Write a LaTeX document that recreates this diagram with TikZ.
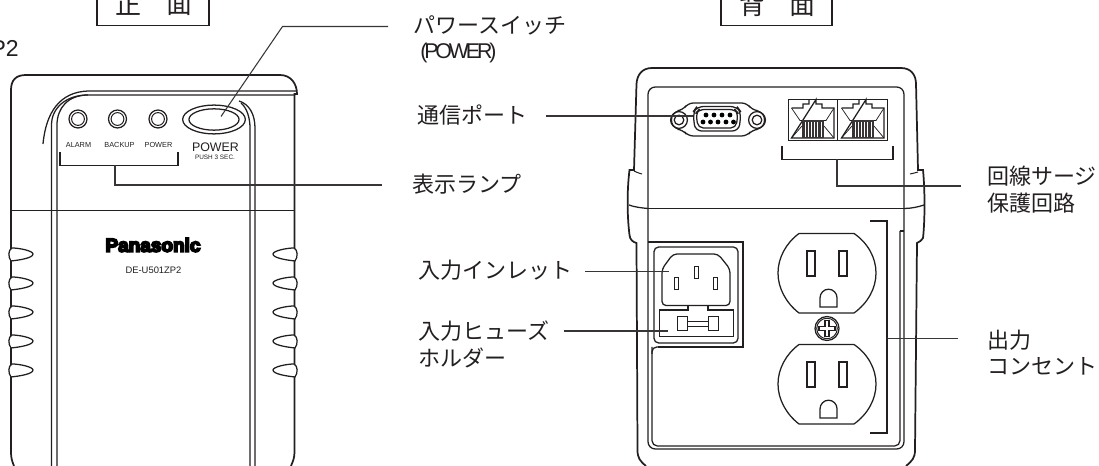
\documentclass[tikz,border=0pt]{standalone}
\usepackage{fontspec}
\setmainfont{Liberation Sans}
\newfontfamily\jp{Noto Sans CJK JP}
\newfontfamily\condfont[LetterSpace=-14.5]{Liberation Sans}
\newfontfamily\heavy[FakeBold=9]{Liberation Sans Bold}
\definecolor{ink}{HTML}{231F20}
\tikzset{
  line/.style={draw=ink,line width=.95pt},
  thin line/.style={draw=ink,line width=.75pt},
  thick line/.style={draw=ink,line width=1.3pt},
  leader/.style={draw=ink!90,line width=.8pt},
  lab/.style={inner sep=0pt,anchor=west,text=ink,font=\jp\fontsize{16.5pt}{18pt}\selectfont},
  ttl/.style={inner sep=0pt,text=ink,font=\jp\fontsize{19.5pt}{20pt}\selectfont},
  small/.style={inner sep=0pt,text=ink,font=\fontsize{5.5pt}{6pt}\selectfont},
}
\begin{document}
\begin{tikzpicture}[x=.75pt,y=-.75pt]
\clip (0,0) rectangle (1099,466);

% ---------- titles
\draw[thick line] (97,-5) -- (97,25.5) -- (209,25.5) -- (209,-5);
\node[ttl] (tf1) at (128.5,4.5) {正};
\node[ttl] (tf2) at (179,4.5) {面};
\draw[thick line] (721,-5) -- (721,25.5) -- (832,25.5) -- (832,-5);
\node[ttl] (tb1) at (752,5) {背};
\node[ttl] (tb2) at (802,5) {面};
\node[inner sep=0pt,anchor=base east,text=ink,font=\fontsize{17.25pt}{18pt}\selectfont] (model) at (19,57) {P2};

% ---------- front view
\draw[thick line] (14,466) .. controls (12,461) and (11,458) .. (11,452) -- (11,90)
  .. controls (11,80) and (16,75) .. (26,75) -- (280,75)
  .. controls (291,75) and (297,84) .. (297,94) -- (294.5,94) -- (294.5,452)
  .. controls (294.5,458) and (293,461) .. (291,466);
\draw[line] (43,144) .. controls (46,112) and (60,92) .. (88,91) -- (296,91);
\draw[line] (51.5,466) -- (51.5,125) .. controls (51.5,108) and (66,95) .. (88,95) -- (295,95);
\draw[line] (57,466) -- (57,125) .. controls (57,108) and (68,95) .. (88,95);
\draw[line] (239,101) .. controls (249,104) and (255,114) .. (255,128) -- (255,466);
\draw[line] (241,103) .. controls (247,108) and (250,118) .. (250,128) -- (250,466);
\draw[line] (12,210.5) -- (294,210.5);
% bumps
\foreach \yy in {254,283,312,341,370}{
  \draw[line,fill=white] (12,\yy-6) .. controls (8,\yy-4) and (8,\yy+3) .. (11,\yy+7)
     .. controls (20,\yy+6) and (33,\yy+4) .. (33,\yy)
     .. controls (33,\yy-3) and (20,\yy-6) .. (12,\yy-6);
  \draw[line,fill=white] (294,\yy-6) .. controls (298,\yy-4) and (298,\yy+3) .. (295,\yy+7)
     .. controls (286,\yy+6) and (273,\yy+4) .. (273,\yy)
     .. controls (273,\yy-3) and (286,\yy-6) .. (294,\yy-6);
}
% lamps
\foreach \xx in {78,117.5,158}{
  \draw[line] (\xx,119) circle[radius=6.75pt];
  \draw[thin line] (\xx,119) circle[radius=4.8pt];
}
\draw[line] (214,119.5) ellipse[x radius=23.5pt,y radius=10.8pt];
\draw[line] (214,119.5) ellipse[x radius=18.8pt,y radius=8pt];
\node[small] (t1) at (78.5,145) {ALARM};
\node[small] (t2) at (119.5,145) {BACKUP};
\node[small] (t3) at (158.5,145) {POWER};
\node[inner sep=0pt,text=ink,font=\fontsize{9.3pt}{10pt}\selectfont] (t4) at (215.5,147) {POWER};
\node[inner sep=0pt,text=ink,font=\fontsize{4.8pt}{5pt}\selectfont] (t5) at (215,157.5) {PUSH 3 SEC.};
\node[inner sep=0pt,text=black,font=\heavy\fontsize{14.25pt}{15pt}\selectfont] (brand) at (153,245) {Panasonic};
\node[inner sep=0pt,text=ink,font=\fontsize{7.05pt}{8pt}\selectfont] (mdl) at (153.5,270.5) {DE-U501ZP2};

% ---------- back view body
\draw[thick line] (646,466) .. controls (640,461) and (637.5,458) .. (637.5,450) -- (636.5,243)
  .. controls (633,242) and (630,240) .. (629.5,235) .. controls (627,215) and (627,190) .. (629.5,170)
  -- (634,170) -- (636.5,84) .. controls (637,75) and (642,68) .. (652,68)
  -- (901,68) .. controls (911,68) and (916,75) .. (916,84) -- (918,170) -- (923,170)
  .. controls (925,190) and (925,220) .. (923,238) .. controls (921,241) and (919,242) .. (917,243)
  -- (915,450) .. controls (915,458) and (912,461) .. (906,466);
\draw[line] (629,205) .. controls (634,207) and (642,208) .. (648,208.5);
\draw[line] (648,208.5) -- (904,208.5);
\draw[line] (904,208.5) .. controls (911,208.5) and (918,207) .. (924,205);
\draw[thin line] (634,171) .. controls (638,173) and (642,174) .. (642,174);
\draw[thin line] (918,172) .. controls (915,173) and (912,173.5) .. (910,174);
% inner panel
\draw[line,rounded corners=5.5pt] (648,242) -- (648,87) -- (904,87) -- (904,449) -- (648,449) -- (648,242);
\draw[line,rounded corners=4pt] (652,347) -- (652,446) -- (900,446) -- (900,231);
\draw[line] (900,231) -- (904,231);
% inlet block
\draw[line] (648,242) -- (743,242) -- (743,347) -- (658,347);
\draw[line,rounded corners=3.5pt] (658,347) -- (652,347) -- (652,354);
\draw[line,rounded corners=3.5pt] (654,247) rectangle (738,343);
\draw[line,rounded corners=3pt] (673,254) -- (718,254) -- (730,269) -- (730,305.5) -- (662,305.5) -- (662,269) -- cycle;
\draw[thin line] (694,266.5) rectangle (698,279);
\draw[thin line] (674.5,278) rectangle (678.5,290);
\draw[thin line] (713.5,278) rectangle (717.5,290);
\draw[line] (688,305.5) -- (688,310) -- (659.5,310) -- (659.5,336.5) -- (733.5,336.5) -- (733.5,310) -- (708,310) -- (708,305.5);
\draw[thin line] (677.5,317) rectangle (687,331);
\draw[thin line] (708,317) rectangle (718,331);
\draw[thin line] (687,321.5) -- (708,321.5) (687,327) -- (708,327);
% outlets
\foreach \dy in {0,111}{
\begin{scope}[shift={(0,\dy)}]
  \draw[line] (799,233.5) -- (854,233.5) .. controls (868,243) and (876,258) .. (876,273)
    .. controls (876,288) and (868,303) .. (854,313) -- (799,313)
    .. controls (786,303) and (778,288) .. (778,273)
    .. controls (778,258) and (786,243) .. (799,233.5);
  \draw[line] (807,251) rectangle (815,276);
  \draw[line] (839,251) rectangle (847,276);
  \draw[line] (820,307) -- (820,298) arc[start angle=180,end angle=0,x radius=6.4pt,y radius=6.6pt] -- (837,307) -- cycle;
\end{scope}}
% screw
\draw[line] (827,328.5) circle[radius=9pt];
\draw[thin line] (827,328.5) circle[radius=7.7pt];
\draw[line] (825,320.5) -- (829,320.5) -- (829,326.5) -- (835,326.5) -- (835,330.5) -- (829,330.5) -- (829,336.5) -- (825,336.5) -- (825,330.5) -- (819,330.5) -- (819,326.5) -- (825,326.5) -- cycle;
% D-sub
\draw[line,rounded corners=4pt] (688,103) -- (747,103) -- (752,110) -- (761,111) -- (766,120) -- (761,129) -- (752,130) -- (747,136) -- (688,136) -- (683,130) -- (675,129) -- (670,120) -- (675,111) -- (683,110) -- cycle;
\draw[line] (679,120) circle[radius=6.3pt];
\draw[line] (679,120) circle[radius=3.6pt];
\draw[line] (757,120) circle[radius=6.3pt];
\draw[line] (757,120) circle[radius=3.6pt];
\draw[line,rounded corners=5pt] (697,106.5) -- (737,106.5) -- (741,112) -- (739,131) -- (695,131) -- (693,112) -- cycle;
\draw[line,rounded corners=4pt] (699,109.5) -- (735,109.5) -- (738,113) -- (736,128) -- (698,128) -- (696,113) -- cycle;
\foreach \xx in {706,714,722,730}{\fill[black] (\xx,115) circle[radius=1.8pt];}
\foreach \xx in {703,710.5,718,726,733.5}{\fill[black] (\xx,122) circle[radius=1.8pt];}
% jacks
\draw[thin line] (788,99.5) rectangle (887,141);
\draw[thin line] (837.5,99.5) -- (837.5,141);
\foreach \dx in {0,50}{
\begin{scope}[shift={(\dx,0)}]
  \draw[line] (791.5,108) -- (803,108) -- (803,104) -- (809,104) -- (809,99.5) (816,99.5) -- (816,104) -- (822,104) -- (822,108) -- (834,108) -- (834,138) -- (791.5,138) -- cycle;
  \draw[draw=ink,line width=.55pt] (791.5,108) -- (800,120.5) -- (826,120.5) -- (834,108);
  \draw[draw=ink,line width=.55pt] (791.5,138) -- (802,126) (834,138) -- (824,126);
  \fill[ink!90] (802,120.5) rectangle (824,138);
  \foreach \i in {1,...,6}{\draw[white,line width=.5pt] (802+\i*3.14,122) -- (802+\i*3.14,137);}
\end{scope}}
% brackets
\draw[line] (782,146.5) -- (782,159.5) -- (893,159.5) -- (893,146.5);
\draw[line] (870,221) -- (887,221) -- (887,433) -- (870,433);
\draw[line] (60,152.5) -- (60,165.5) -- (178,165.5) -- (178,152.5);

% ---------- labels
\node[lab] (lsw) at (413,25) {パワースイッチ};
\node[inner sep=0pt,anchor=west,text=ink,font=\condfont\fontsize{16pt}{17pt}\selectfont] (lpw) at (420,52.5) {(POWER)};
\node[lab] (lcom) at (417,115) {通信ポート};
\node[lab] (llamp) at (412,184) {表示ランプ};
\node[lab] (lin) at (418,270.5) {入力インレット};
\node[lab] (lfuse) at (418,331) {入力ヒューズ};
\node[lab] (lfuse2) at (418,358) {ホルダー};
\node[lab] (lsg) at (987,176) {回線サージ};
\node[lab] (lsg2) at (987,203) {保護回路};
\node[lab] (lout) at (987,340) {出力};
\node[lab] (lout2) at (987,366) {コンセント};

% ---------- leaders
\coordinate (swtip) at (221,116.5);
\coordinate (swbend) at (282.5,26.5);
\coordinate (swend) at (388,26.5);
\draw[leader] (swend) -- (swbend) -- (swtip);
\coordinate (lampa) at (115,165.5);
\coordinate (lampb) at (115,185);
\coordinate (lampc) at (382,185);
\draw[leader] (lampa) -- (lampb) -- (lampc);
\coordinate (coma) at (546,116);
\coordinate (comb) at (693,116);
\draw[leader] (coma) -- (comb);
\coordinate (ina) at (585,271.5);
\coordinate (inb) at (669,271.5);
\draw[leader] (ina) -- (inb);
\coordinate (fua) at (564,331);
\coordinate (fub) at (668,331);
\draw[leader] (fua) -- (fub);
\coordinate (sga) at (837,159.5);
\coordinate (sgb) at (837,186);
\coordinate (sgc) at (961,186);
\draw[leader] (sga) -- (sgb) -- (sgc);
\coordinate (oua) at (887,338.5);
\coordinate (oub) at (958,338.5);
\draw[leader] (oua) -- (oub);
\end{tikzpicture}
\end{document}
